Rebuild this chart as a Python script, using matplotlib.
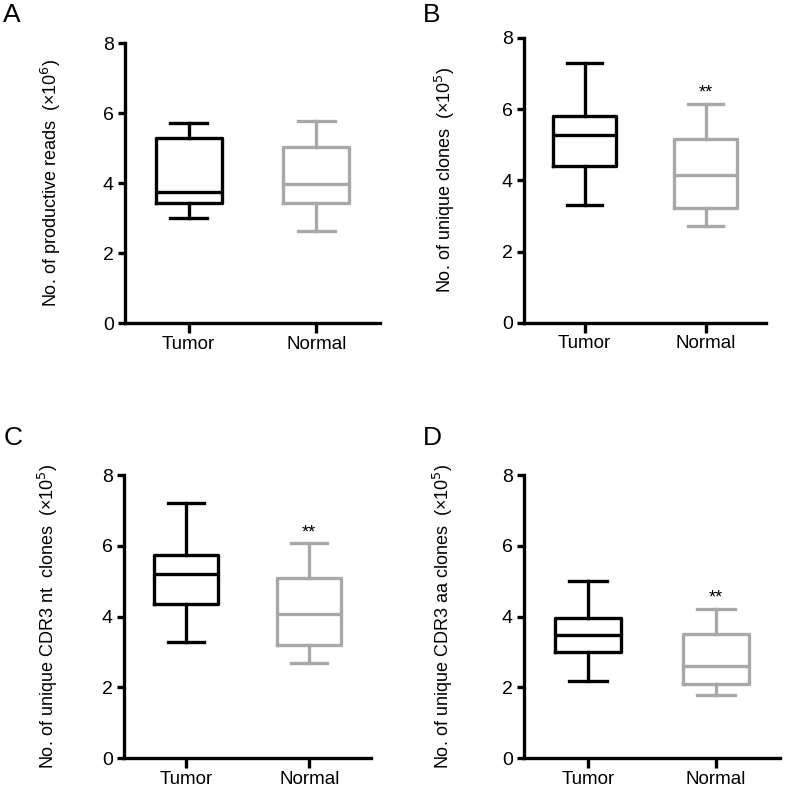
import matplotlib
matplotlib.use("Agg")
import matplotlib.pyplot as plt

plt.rcParams['font.family'] = ['Liberation Sans', 'DejaVu Sans']

groups = ["Tumor", "Normal"]

# five-number summaries: whislo, q1, med, q3, whishi
reads_tumor = [3.01, 3.44, 3.73, 5.28, 5.71]
reads_normal = [2.63, 3.44, 3.98, 5.04, 5.77]
clones_tumor = [3.31, 4.40, 5.28, 5.82, 7.30]
clones_normal = [2.73, 3.22, 4.14, 5.16, 6.15]
nt_tumor = [3.28, 4.35, 5.20, 5.74, 7.20]
nt_normal = [2.70, 3.19, 4.08, 5.10, 6.07]
aa_tumor = [2.19, 3.00, 3.48, 3.97, 5.02]
aa_normal = [1.80, 2.11, 2.60, 3.50, 4.23]

ylabels = ["No. of productive reads  (\u00d710$^{6}$)",
           "No. of unique clones  (\u00d710$^{5}$)",
           "No. of unique CDR3 nt  clones  (\u00d710$^{5}$)",
           "No. of unique CDR3 aa clones  (\u00d710$^{5}$)"]
letters = ["A", "B", "C", "D"]
stars = [None, "**", "**", "**"]
yticks = [0, 2, 4, 6, 8]

colors = ["black", "#a8a8a8"]

fig = plt.figure(figsize=(7.85, 7.87), dpi=100)
W, H = 785.0, 787.0

# axes boxes in pixels: left, right, top (y=8), bottom (y=0)
boxes = [(125, 380, 43, 323), (524, 766, 38, 322.7),
         (124, 371, 475, 758.3), (524, 780, 475, 758.3)]
letter_pos = [(3, 22), (423, 22), (4, 445), (423, 445)]
label_x = [-0.245, -0.275, -0.26, -0.27]

data = [(reads_tumor, reads_normal), (clones_tumor, clones_normal),
        (nt_tumor, nt_normal), (aa_tumor, aa_normal)]

for i, (t, n) in enumerate(data):
    l, r, top, bot = boxes[i]
    ax = fig.add_axes([l / W, 1 - bot / H, (r - l) / W, (bot - top) / H])
    for j, vals in enumerate([t, n]):
        st = dict(whislo=vals[0], q1=vals[1], med=vals[2], q3=vals[3], whishi=vals[4], fliers=[])
        c = colors[j]
        lw = 2.4
        ax.bxp([st], positions=[j + 1], widths=0.52, capwidths=0.29, showfliers=False,
               boxprops=dict(color=c, lw=lw), medianprops=dict(color=c, lw=lw),
               whiskerprops=dict(color=c, lw=lw), capprops=dict(color=c, lw=lw),
               manage_ticks=False)
    if stars[i]:
        ax.text(2, n[4] + 0.3, stars[i], ha="center", va="center", fontsize=13)
    ax.set_xlim(0.5, 2.5)
    ax.set_ylim(0, 8)
    ax.set_yticks(yticks)
    ax.set_xticks([1, 2])
    ax.set_xticklabels(groups)
    for s in ["top", "right"]:
        ax.spines[s].set_visible(False)
    for s in ["left", "bottom"]:
        ax.spines[s].set_linewidth(2.4)
    ax.tick_params(axis="y", length=5, width=2.4, labelsize=14, pad=3)
    ax.tick_params(axis="x", length=7, width=2.4, labelsize=13.5, pad=2)
    ax.set_ylabel(ylabels[i], fontsize=13)
    ax.yaxis.set_label_coords(label_x[i], 0.5)
    lx, ly = letter_pos[i]
    fig.text(lx / W, 1 - ly / H, letters[i], fontsize=19, va="baseline", ha="left")

fig.savefig("out.png", dpi=100)
